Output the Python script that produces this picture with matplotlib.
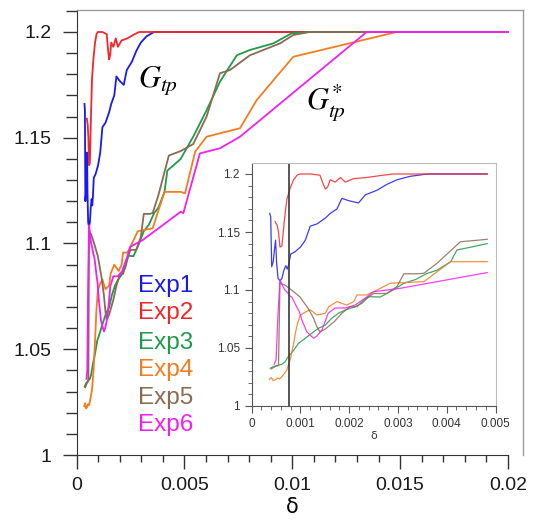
import matplotlib
matplotlib.use("Agg")
import matplotlib.pyplot as plt
from matplotlib.ticker import FixedLocator, FuncFormatter
import numpy as np

plt.rcParams['font.family'] = ['Liberation Sans', 'DejaVu Sans']
plt.rcParams['mathtext.fontset'] = 'stix'

# ---- data (delta, G) ----
d1 = [0.00037, 0.00039, 0.00041, 0.00044, 0.00047, 0.00049, 0.00051, 0.00054, 0.00058, 0.00062,
      0.00066, 0.00070, 0.00073, 0.00076, 0.00080, 0.00089, 0.00100, 0.00110, 0.00120, 0.00134,
      0.00151, 0.00161, 0.00175, 0.00185, 0.00199, 0.00219, 0.00233, 0.00257, 0.00277, 0.00298,
      0.00325, 0.00360, 0.00483, 0.0100, 0.0200]
v1 = [1.166, 1.163, 1.120, 1.124, 1.136, 1.143, 1.124, 1.110, 1.108, 1.110,
      1.117, 1.121, 1.118, 1.122, 1.131, 1.133, 1.137, 1.143, 1.155, 1.157,
      1.162, 1.166, 1.170, 1.179, 1.177, 1.175, 1.182, 1.186, 1.191, 1.195,
      1.198, 1.200, 1.200, 1.200, 1.200]

d2 = [0.00048, 0.00052, 0.00055, 0.00058, 0.00062, 0.00067, 0.00072, 0.00079, 0.00086, 0.00093,
      0.00099, 0.00120, 0.00140, 0.00146, 0.00151, 0.00156, 0.00161, 0.00171, 0.00182, 0.00192,
      0.00209, 0.00236, 0.00270, 0.00291, 0.00483, 0.0100, 0.0200]
v2 = [1.159, 1.156, 1.150, 1.137, 1.138, 1.160, 1.178, 1.188, 1.195, 1.199,
      1.200, 1.200, 1.199, 1.192, 1.187, 1.189, 1.195, 1.193, 1.197, 1.193,
      1.196, 1.197, 1.199, 1.200, 1.200, 1.200, 1.200]

d3 = [0.00038, 0.00045, 0.00055, 0.00062, 0.00068, 0.00075, 0.00086, 0.00096, 0.00110, 0.00123,
      0.00137, 0.00151, 0.00164, 0.00178, 0.00192, 0.00212, 0.00226, 0.00240, 0.00264, 0.00290,
      0.00312, 0.00336, 0.00360, 0.00380, 0.00408, 0.00421, 0.00450, 0.00483, 0.00541, 0.00603,
      0.00665, 0.00743, 0.00804, 0.00912, 0.00997, 0.0108, 0.0200]
v3 = [1.0325, 1.034, 1.0353, 1.036, 1.038, 1.0425, 1.048, 1.054, 1.0584, 1.0627,
      1.067, 1.0698, 1.0756, 1.080, 1.0828, 1.0856, 1.0885, 1.0942, 1.094, 1.100,
      1.1058, 1.109, 1.1144, 1.117, 1.1244, 1.1345, 1.137, 1.140, 1.1505, 1.163,
      1.1765, 1.189, 1.1915, 1.1946, 1.1994, 1.200, 1.200]

d4 = [0.00036, 0.00040, 0.00044, 0.00048, 0.00053, 0.00058, 0.00062, 0.00067, 0.00072, 0.00079,
      0.00086, 0.00092, 0.00099, 0.00110, 0.00120, 0.00134, 0.00151, 0.00158, 0.00175, 0.00185,
      0.00195, 0.00209, 0.00216, 0.00236, 0.00257, 0.00284, 0.00353, 0.00408, 0.00483, 0.00503,
      0.00550, 0.00603, 0.00758, 0.00835, 0.01005, 0.01484, 0.0200]
v4 = [1.023, 1.0245, 1.022, 1.0224, 1.024, 1.0235, 1.0253, 1.028, 1.031, 1.040,
      1.054, 1.068, 1.078, 1.081, 1.083, 1.0784, 1.080, 1.0856, 1.090, 1.0885,
      1.087, 1.090, 1.0957, 1.0957, 1.100, 1.1058, 1.1072, 1.1244, 1.1244, 1.1237,
      1.1434, 1.1505, 1.1545, 1.1678, 1.1883, 1.200, 1.200]

d5 = [0.00040, 0.00048, 0.00055, 0.00058, 0.00062, 0.00068, 0.00082, 0.00099, 0.00116, 0.00127,
      0.00134, 0.00140, 0.00150, 0.00170, 0.00185, 0.00202, 0.00216, 0.00229, 0.00250, 0.00277,
      0.00298, 0.00312, 0.00339, 0.00353, 0.00380, 0.00428, 0.00483, 0.00541, 0.00603, 0.00665,
      0.00711, 0.00804, 0.00943, 0.01005, 0.0108, 0.0200]
v5 = [1.032, 1.034, 1.035, 1.107, 1.105, 1.1043, 1.0999, 1.094, 1.084, 1.0756,
      1.068, 1.064, 1.066, 1.073, 1.080, 1.0856, 1.0856, 1.091, 1.097, 1.097,
      1.103, 1.114, 1.114, 1.1144, 1.123, 1.1416, 1.1437, 1.147, 1.160, 1.1805,
      1.182, 1.189, 1.1946, 1.1986, 1.200, 1.200]

d6 = [0.00046, 0.00050, 0.00054, 0.00058, 0.00063, 0.00068, 0.00073, 0.00078, 0.00082, 0.00087,
      0.00092, 0.00098, 0.00103, 0.00108, 0.00113, 0.00120, 0.00127, 0.00133, 0.00144, 0.00157,
      0.00171, 0.00192, 0.00212, 0.00236, 0.00250, 0.00305, 0.00483, 0.00495, 0.00572, 0.00665,
      0.00758, 0.01345, 0.0200]
v6 = [1.036, 1.040, 1.080, 1.1086, 1.104, 1.100, 1.098, 1.095, 1.094, 1.090,
      1.0856, 1.081, 1.074, 1.069, 1.064, 1.061, 1.0584, 1.060, 1.0655, 1.080,
      1.0845, 1.0845, 1.087, 1.094, 1.0985, 1.1015, 1.115, 1.1143, 1.1426, 1.145,
      1.1505, 1.200, 1.200]

series = [("Exp1", d1, v1, "#1a1af0"),
          ("Exp2", d2, v2, "#f0282d"),
          ("Exp3", d3, v3, "#1f9a4a"),
          ("Exp4", d4, v4, "#f47c20"),
          ("Exp5", d5, v5, "#8c6a4f"),
          ("Exp6", d6, v6, "#f020f0")]

main_xticks = [0, 0.005, 0.01, 0.015, 0.02]
main_yticks = [1.0, 1.05, 1.1, 1.15, 1.2]
inset_xticks = [0, 0.001, 0.002, 0.003, 0.004, 0.005]
inset_yticks = [1.0, 1.05, 1.1, 1.15, 1.2]
inset_max = 0.00484
marker_delta = 0.00077

W, H = 544, 520
fig = plt.figure(figsize=(W / 100, H / 100), dpi=100)
fmt = FuncFormatter(lambda x, p: ('%g' % round(x, 6)))

# main axes (pixel geometry)
L, R, T, B = 76.5, 523, 10, 455
ax = fig.add_axes([L / W, (H - B) / H, (R - L) / W, (B - T) / H])

for name, d, v, c in series:
    ax.plot(d, v, color=c, lw=1.3)

ax.xaxis.set_major_locator(FixedLocator(main_xticks))
ax.xaxis.set_minor_locator(FixedLocator(list(np.round(np.arange(0, 0.02001, 0.001), 6))))
ax.yaxis.set_major_locator(FixedLocator(main_yticks))
ax.yaxis.set_minor_locator(FixedLocator(list(np.round(np.arange(1.0, 1.2101, 0.01), 4))))
ax.xaxis.set_major_formatter(fmt)
ax.yaxis.set_major_formatter(fmt)
ax.set_xlim(0, (R - L) / 21575)
ax.set_ylim(1.0, 1.0 + (B - T) / 2115)

ax.spines['left'].set_color('#333333')
ax.spines['bottom'].set_color('#333333')
ax.spines['bottom'].set_bounds(0, 0.02)
for s in ['top', 'right']:
    ax.spines[s].set_color('#9a9a9a')
    ax.spines[s].set_linewidth(1.0)

ax.tick_params(axis='both', which='major', direction='out', length=10, width=1, colors='#333333',
               labelsize=14, labelcolor='#1a1a1a')
ax.tick_params(axis='x', which='minor', direction='out', length=5, width=1, colors='#333333')
ax.tick_params(axis='y', which='minor', direction='out', length=8, width=1, colors='#333333')
ax.tick_params(axis='x', which='major', pad=6)
ax.tick_params(axis='y', which='major', pad=8)
ax.set_xlabel('δ', fontsize=15, labelpad=0, family=['DejaVu Sans'])
ax.xaxis.set_label_coords(0.01 / ax.get_xlim()[1], -0.095)

# annotations
ax.text(0.0038, 1.177, r'$G_{tp}$', fontsize=22, ha='center', va='center')
ax.text(0.01155, 1.1665, r'$G^{*}_{tp}$', fontsize=22, ha='center', va='center')

# legend as coloured text
ly = [1.08, 1.067, 1.053, 1.040, 1.027, 1.014]
for (name, d, v, c), y in zip(series, ly):
    ax.text(0.00285, y, name, color=c, fontsize=17.5, ha='left', va='center')

# inset axes
iL, iR, iT, iB = 251.7, 495.5, 162.7, 406
ax2 = fig.add_axes([iL / W, (H - iB) / H, (iR - iL) / W, (iB - iT) / H])
for name, d, v, c in series:
    dd = [x for x in d if x <= inset_max]
    vv = [y for x, y in zip(d, v) if x <= inset_max]
    ax2.plot(dd, vv, color=c, lw=0.9, alpha=0.85)
ax2.axvline(marker_delta, color='#3a3a3a', lw=1.2)
ax2.xaxis.set_major_locator(FixedLocator(inset_xticks))
ax2.xaxis.set_minor_locator(FixedLocator(list(np.round(np.arange(0, 0.00501, 0.0002), 6))))
ax2.yaxis.set_major_locator(FixedLocator(inset_yticks))
ax2.yaxis.set_minor_locator(FixedLocator(list(np.round(np.arange(1.0, 1.2001, 0.01), 4))))
ax2.xaxis.set_major_formatter(fmt)
ax2.yaxis.set_major_formatter(fmt)
ax2.set_xlim(0, 0.005)
ax2.set_ylim(1.0, 1.0 + (iB - iT) / 1160)
ax2.tick_params(axis='both', which='major', direction='out', length=5, width=0.8,
                colors='#555555', labelsize=8.5, labelcolor='#333333')
ax2.tick_params(axis='both', which='minor', direction='out', length=3, width=0.6, colors='#555555')
for s in ['left', 'bottom']:
    ax2.spines[s].set_color('#555555')
for s in ['top', 'right']:
    ax2.spines[s].set_color('#bbbbbb')
ax2.set_xlabel('δ', fontsize=8, labelpad=1, color='#333333', family=['DejaVu Sans'])

fig.savefig('out.png', dpi=100, facecolor='white')
